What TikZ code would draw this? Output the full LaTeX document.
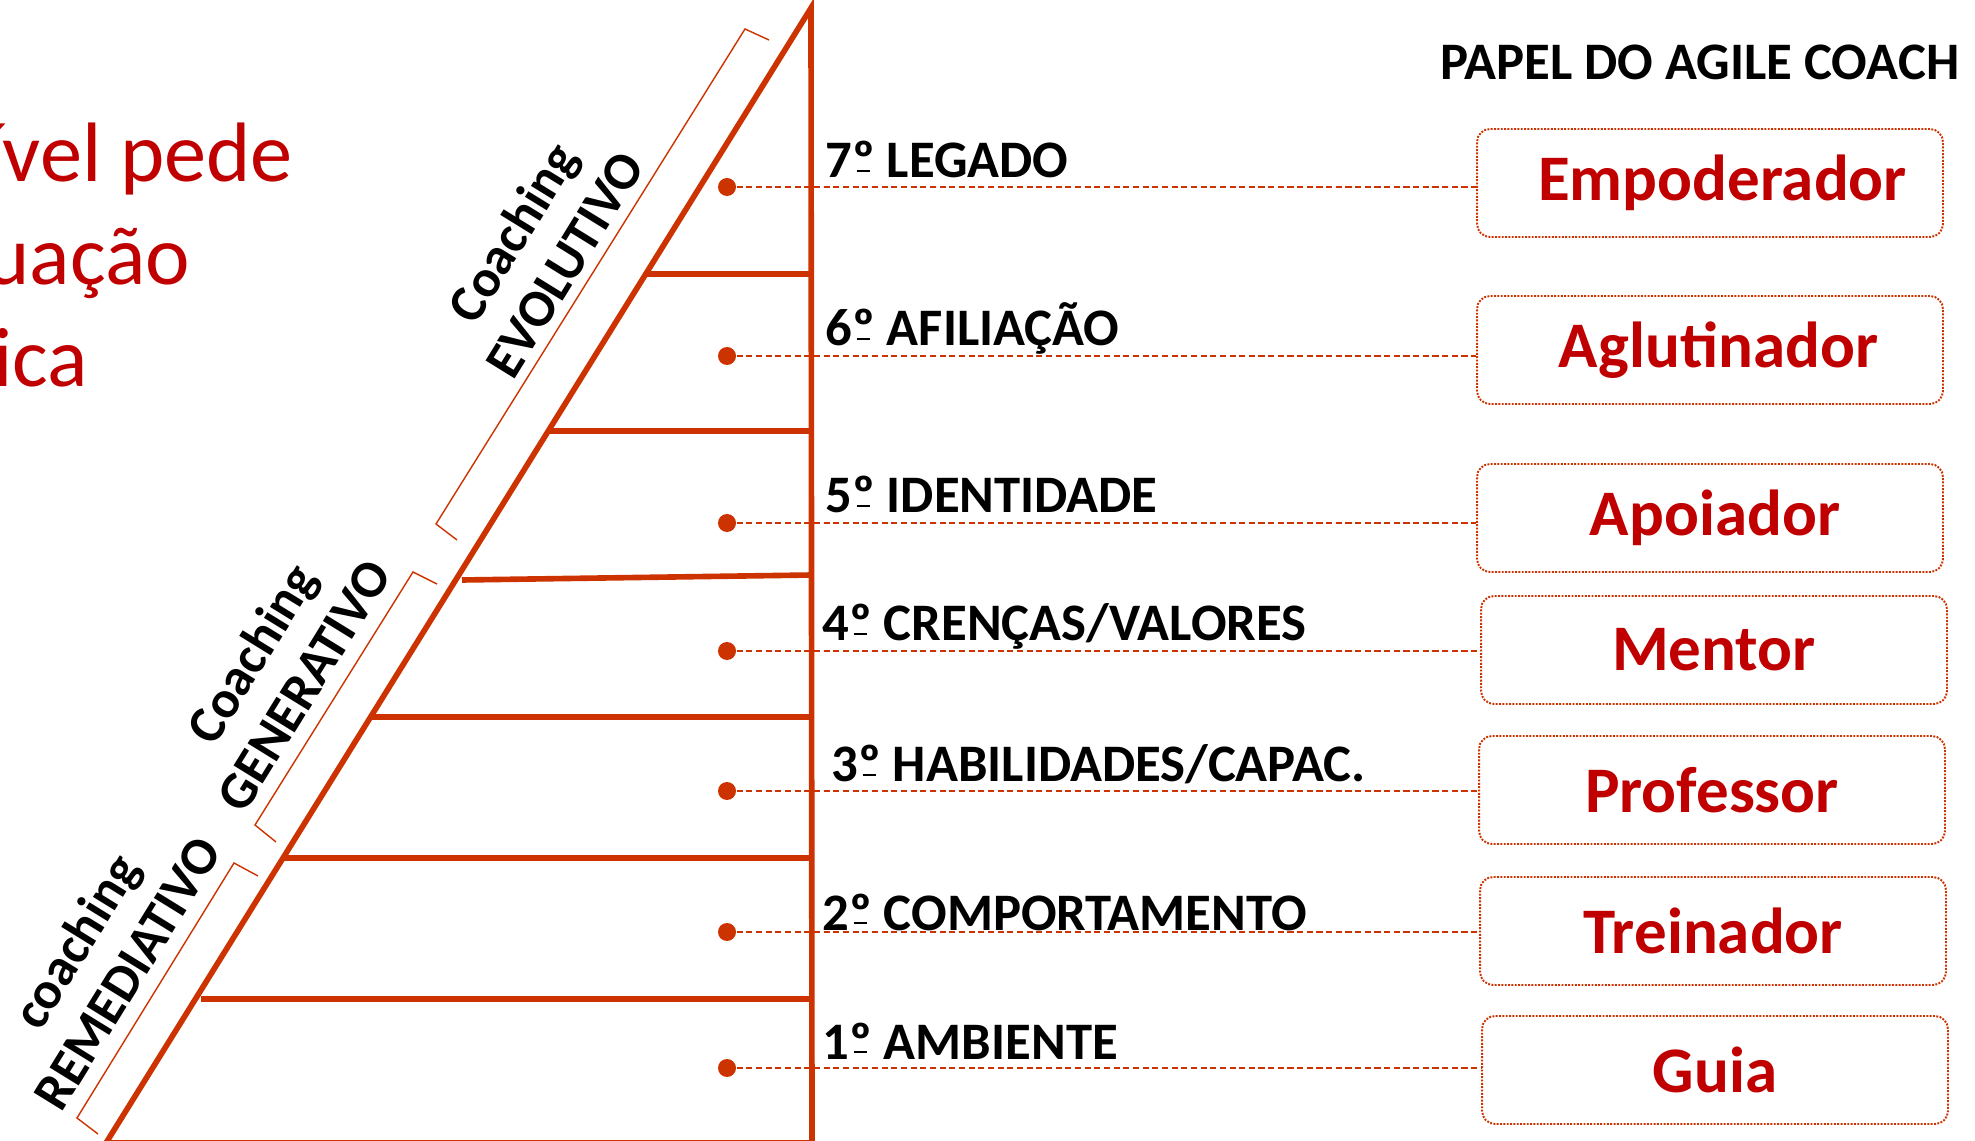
\documentclass[tikz,border=0pt]{standalone}
\usepackage{fontspec}
\setmainfont{Carlito}
\usetikzlibrary{calc}
\definecolor{ladder}{HTML}{CC3300}
\definecolor{role}{HTML}{C00000}
\newcommand\ordbar{\setbox0\hbox{º}\rlap{\copy0}\hbox to\wd0{\hss\rule[0.11em]{0.26em}{0.05em}\hss}}

\begin{document}
\begin{tikzpicture}[x=0.02cm,y=-0.02cm,
 rung/.style={line width=3.2pt,draw=ladder},
 brace/.style={line width=0.8pt,draw=ladder},
 level/.style={anchor=base west,inner sep=0pt,font=\fontsize{30}{36}\selectfont\bfseries},
 band/.style={rotate=58.3,align=center,inner sep=0pt,font=\fontsize{30}{34.7}\selectfont\bfseries},
 pin/.style={circle,fill=ladder,inner sep=0pt,minimum size=0.36cm},
 rolebox/.style={draw=ladder,line width=1.1pt,dash pattern=on 1.1pt off 0.8pt,rounded corners=0.26cm,minimum width=9.32cm,minimum height=2.16cm,inner sep=0pt,text=role,font=\fontsize{37}{44}\selectfont\bfseries},
 link/.style={draw=ladder,line width=0.8pt,dash pattern=on 3.5pt off 2pt},
 lead/.style={anchor=base west,inner sep=0pt,text=role,font=\fontsize{48}{57}\selectfont}]
\useasboundingbox (0,0) rectangle (1975,1141);
\coordinate (apex) at (811,8);
\coordinate (foot) at (106,1143);
\coordinate (axis) at (812,1143);
\draw[rung] (axis) -- (foot) -- (apex) -- cycle;
\foreach \xa/\ya/\yb in {644/274/274,547/431/431,462/580/575,370/717/717,282/858/858,201/999/999}
 \draw[rung] (\xa,\ya) -- (812,\yb);
\draw[brace] (769,40) -- (745,29) -- (436,524) -- (457,540);
\draw[brace] (437,584) -- (413,572) -- (255,825) -- (276,842);
\draw[brace] (258,876) -- (234,863) -- (77,1118) -- (98,1134);
\node[band] (evo) at (538,248) {Coaching\\EVOLUTIVO};
\node[band] (gen) at (277,669) {Coaching\\GENERATIVO};
\node[band] (rem) at (101,957) {coaching\\REMEDIATIVO};
\node[lead] (t1) at (-17,182) {ível pede};
\node[lead] (t2) at (-15,285) {uação};
\node[lead] (t3) at (-7,387) {ica};
\node[level] (title) at (1440,80) {PAPEL DO AGILE COACH};
\node[level] (l7) at (825,178) {7\ordbar{} LEGADO};
\node[level] (l6) at (825,346) {6\ordbar{} AFILIAÇÃO};
\node[level] (l5) at (825,513) {5\ordbar{} IDENTIDADE};
\node[level] (l4) at (822,641) {4\ordbar{} CRENÇAS/VALORES};
\node[level] (l3) at (831,782) {3\ordbar{} HABILIDADES/CAPAC.};
\node[level] (l2) at (822,930) {2\ordbar{} COMPORTAMENTO};
\node[level] (l1) at (822,1059) {1\ordbar{} AMBIENTE};
\foreach \n/\y/\bx/\by/\dx/\role in {7/187/1710/183/0.5cm/Empoderador,6/356/1710/350/0.34cm/Aglutinador,5/523/1710/518/0.2cm/Apoiador,4/651/1714/650/0cm/Mentor,3/791/1712/790/0cm/Professor,2/932/1713/931/0cm/Treinador,1/1068/1715/1070/0cm/Guia}{
 \node[pin] (d\n) at (727,\y) {};
 \node[rolebox] (r\n) at (\bx,\by) {\hspace*{\dx}\role};
 \draw[link] (d\n.center) -- (d\n.center -| r\n.west);
}
\end{tikzpicture}
\end{document}
